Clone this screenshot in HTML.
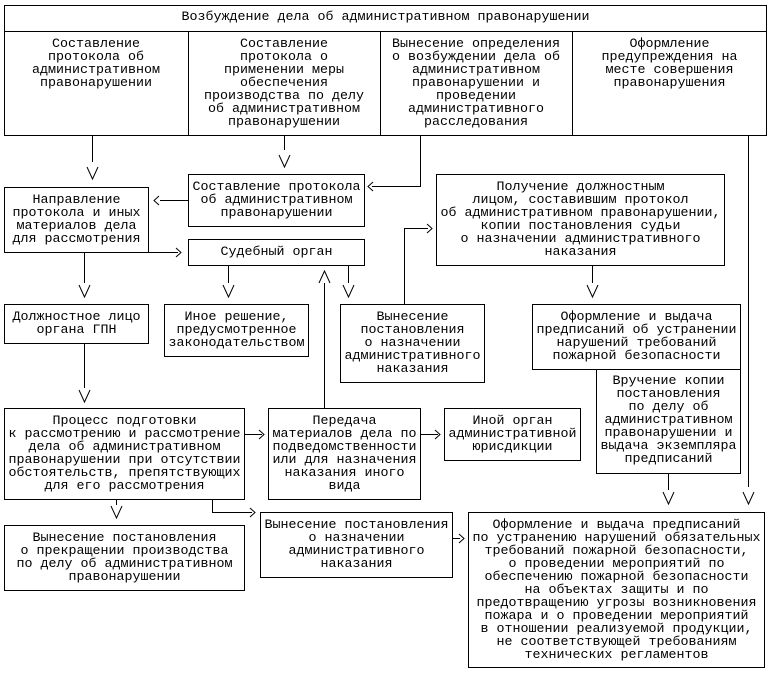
<!DOCTYPE html>
<html><head><meta charset="utf-8"><style>
body{margin:0;background:#fff;width:771px;height:675px;position:relative;overflow:hidden;font-family:"Liberation Mono","DejaVu Sans Mono",monospace;font-size:13.33px;color:#000}
.b{position:absolute;box-sizing:border-box;border:1px solid #000;text-align:center;line-height:13px;white-space:nowrap}
.t{position:absolute;text-align:center;line-height:13px;white-space:nowrap}
svg{position:absolute;left:0;top:0}
</style></head><body>
<svg width="771" height="675" fill="none" stroke="#000" stroke-width="1">
<rect x="4.5" y="5.5" width="762" height="130"/>
<line x1="4" y1="31.5" x2="767" y2="31.5"/>
<line x1="188.5" y1="31" x2="188.5" y2="135"/>
<line x1="380.5" y1="31" x2="380.5" y2="135"/>
<line x1="572.5" y1="31" x2="572.5" y2="135"/>
<!-- col1 -->
<line x1="92.5" y1="135" x2="92.5" y2="162"/><polyline points="87,167 92.5,179 98,167"/>
<!-- col2 -->
<line x1="284.5" y1="135" x2="284.5" y2="150"/><polyline points="279,155 284.5,167 290,155"/>
<!-- col3 -->
<polyline points="420.5,135 420.5,186.5 372,186.5"/><polyline points="373,182 368,186.5 373,191"/>
<!-- col4 -->
<line x1="748.5" y1="135" x2="748.5" y2="487"/><polyline points="743,492 748.5,504 754,492"/>
<!-- protocol -> направление -->
<line x1="188" y1="200.5" x2="160" y2="200.5"/><polyline points="159,196 154,200.5 159,205"/>
<!-- направление -> судебный -->
<line x1="148" y1="252.5" x2="178" y2="252.5"/><polyline points="176,248 181,252.5 176,257"/>
<!-- Вынесение -> Получение -->
<polyline points="404.5,304 404.5,228.5 428,228.5"/><polyline points="427,224 432,228.5 427,233"/>
<!-- Получение down -->
<line x1="592.5" y1="265" x2="592.5" y2="283"/><polyline points="587,285 592.5,297 598,285"/>
<!-- Направление down -->
<line x1="84.5" y1="252" x2="84.5" y2="283"/><polyline points="79,285 84.5,297 90,285"/>
<!-- Судебный down -->
<line x1="228.5" y1="265" x2="228.5" y2="283"/><polyline points="223,285 228.5,297 234,285"/>
<line x1="348.5" y1="265" x2="348.5" y2="283"/><polyline points="343,285 348.5,297 354,285"/>
<line x1="324.5" y1="283" x2="324.5" y2="408"/><polyline points="319,283 324.5,271 330,283"/>
<!-- Должностное down -->
<line x1="84.5" y1="343" x2="84.5" y2="388"/><polyline points="79,390 84.5,402 90,390"/>
<!-- Процесс -> Передача -->
<line x1="244" y1="434.5" x2="262" y2="434.5"/><polyline points="259,430 264,434.5 259,439"/>
<!-- Передача -> Иной -->
<line x1="420" y1="434.5" x2="438" y2="434.5"/><polyline points="435,430 440,434.5 435,439"/>
<!-- Процесс down -->
<line x1="116.5" y1="499" x2="116.5" y2="505"/><polyline points="111,506 116.5,518 122,506"/>
<polyline points="212.5,499 212.5,512.5 252,512.5"/><polyline points="250,508 255,512.5 250,517"/>
<!-- bottom mid -> big -->
<line x1="452" y1="538.5" x2="460" y2="538.5"/><polyline points="459,534 464,538.5 459,543"/>
<!-- Вручение down -->
<line x1="668.5" y1="473" x2="668.5" y2="490"/><polyline points="663,492 668.5,504 674,492"/>
</svg>
<div class="t" style="left:4px;top:11px;width:763px">Возбуждение дела об административном правонарушении</div>
<div class="t" style="left:4px;top:38px;width:184px">Составление<br>протокола об<br>административном<br>правонарушении</div>
<div class="t" style="left:188px;top:38px;width:192px">Составление<br>протокола о<br>применении меры<br>обеспечения<br>производства по делу<br>об административном<br>правонарушении</div>
<div class="t" style="left:380px;top:38px;width:192px">Вынесение определения<br>о возбуждении дела об<br>административном<br>правонарушении и<br>проведении<br>административного<br>расследования</div>
<div class="t" style="left:572px;top:38px;width:195px">Оформление<br>предупреждения на<br>месте совершения<br>правонарушения</div>
<div class="b" style="left:188px;top:174px;width:177px;height:53px;padding-top:6px">Составление протокола<br>об административном<br>правонарушении</div>
<div class="b" style="left:4px;top:187px;width:145px;height:66px;padding-top:6px">Направление<br>протокола и иных<br>материалов дела<br>для рассмотрения</div>
<div class="b" style="left:188px;top:239px;width:177px;height:27px;padding-top:6px">Судебный орган</div>
<div class="b" style="left:436px;top:174px;width:289px;height:92px;padding-top:6px">Получение должностным<br>лицом, составившим протокол<br>об административном правонарушении,<br>копии постановления судьи<br>о назначении административного<br>наказания</div>
<div class="b" style="left:4px;top:304px;width:145px;height:40px;padding-top:6px">Должностное лицо<br>органа ГПН</div>
<div class="b" style="left:164px;top:304px;width:145px;height:53px;padding-top:6px">Иное решение,<br>предусмотренное<br>законодательством</div>
<div class="b" style="left:340px;top:304px;width:145px;height:79px;padding-top:6px">Вынесение<br>постановления<br>о назначении<br>административного<br>наказания</div>
<div class="b" style="left:532px;top:304px;width:209px;height:66px;padding-top:6px">Оформление и выдача<br>предписаний об устранении<br>нарушений требований<br>пожарной безопасности</div>
<div class="b" style="left:596px;top:369px;width:145px;height:105px;padding-top:5px">Вручение копии<br>постановления<br>по делу об<br>административном<br>правонарушении и<br>выдача экземпляра<br>предписаний</div>
<div class="b" style="left:4px;top:408px;width:241px;height:92px;padding-top:6px">Процесс подготовки<br>к рассмотрению и рассмотрение<br>дела об административном<br>правонарушении при отсутствии<br>обстоятельств, препятствующих<br>для его рассмотрения</div>
<div class="b" style="left:268px;top:408px;width:153px;height:92px;padding-top:6px">Передача<br>материалов дела по<br>подведомственности<br>или для назначения<br>наказания иного<br>вида</div>
<div class="b" style="left:444px;top:408px;width:137px;height:53px;padding-top:6px">Иной орган<br>административной<br>юрисдикции</div>
<div class="b" style="left:4px;top:525px;width:241px;height:66px;padding-top:6px">Вынесение постановления<br>о прекращении производства<br>по делу об административном<br>правонарушении</div>
<div class="b" style="left:260px;top:512px;width:193px;height:66px;padding-top:6px">Вынесение постановления<br>о назначении<br>административного<br>наказания</div>
<div class="b" style="left:468px;top:512px;width:297px;height:156px;padding-top:6px">Оформление и выдача предписаний<br>по устранению нарушений обязательных<br>требований пожарной безопасности,<br>о проведении мероприятий по<br>обеспечению пожарной безопасности<br>на объектах защиты и по<br>предотвращению угрозы возникновения<br>пожара и о проведении мероприятий<br>в отношении реализуемой продукции,<br>не соответствующей требованиям<br>технических регламентов</div>
</body></html>
